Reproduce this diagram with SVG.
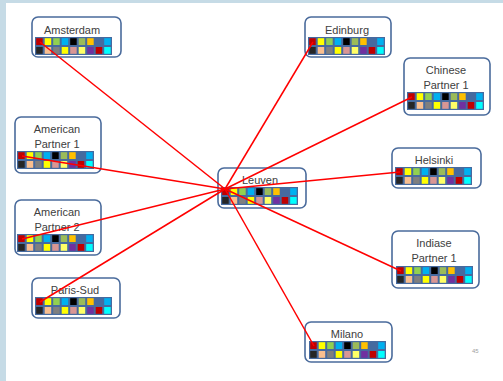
<svg xmlns="http://www.w3.org/2000/svg" xmlns:xlink="http://www.w3.org/1999/xlink" width="503" height="381" viewBox="0 0 503 381">
<style>
.box{fill:#ffffff;stroke:#4a6b9c;stroke-width:1.6}
.lbl{font-family:"Liberation Sans",Arial,sans-serif;font-size:11px;fill:#404040;text-anchor:middle}
.pg{font-family:"Liberation Sans",Arial,sans-serif;font-size:6px;fill:#a0a0a0}
.conn line{stroke:#ff0000;stroke-width:1.5}
</style>
<defs>
<g id="grid">
<rect x="0" y="0" width="77" height="18" fill="#466a9f"/>
<rect x="1.2" y="1.2" width="6.5" height="6.8" fill="#c00000"/>
<rect x="9.7" y="1.2" width="6.5" height="6.8" fill="#ffff00"/>
<rect x="18.2" y="1.2" width="6.5" height="6.8" fill="#92d050"/>
<rect x="26.7" y="1.2" width="6.5" height="6.8" fill="#00b0f0"/>
<rect x="35.2" y="1.2" width="6.5" height="6.8" fill="#000000"/>
<rect x="43.7" y="1.2" width="6.5" height="6.8" fill="#9bbb59"/>
<rect x="52.2" y="1.2" width="6.5" height="6.8" fill="#ffc000"/>
<rect x="69.2" y="1.2" width="6.5" height="6.8" fill="#00b0f0"/>
<rect x="1.2" y="10" width="6.5" height="6.8" fill="#262626"/>
<rect x="9.7" y="10" width="6.5" height="6.8" fill="#fabf8f"/>
<rect x="18.2" y="10" width="6.5" height="6.8" fill="#7f7f7f"/>
<rect x="26.7" y="10" width="6.5" height="6.8" fill="#ffff00"/>
<rect x="35.2" y="10" width="6.5" height="6.8" fill="#d99694"/>
<rect x="43.7" y="10" width="6.5" height="6.8" fill="#ffff66"/>
<rect x="52.2" y="10" width="6.5" height="6.8" fill="#7030a0"/>
<rect x="60.7" y="10" width="6.5" height="6.8" fill="#c00000"/>
<rect x="69.2" y="10" width="6.5" height="6.8" fill="#00ffff"/>
</g>
</defs>
<rect x="0" y="0" width="503" height="381" fill="#c6dbe6"/>
<rect x="6" y="3" width="497" height="378" fill="#ffffff"/>

<g id="amsterdam"><rect class="box" x="32" y="17" width="89" height="40" rx="6"/><text class="lbl" x="72" y="34">Amsterdam</text><use xlink:href="#grid" x="35" y="37"/></g>
<g id="edinburg"><rect class="box" x="305" y="17" width="86" height="40" rx="6"/><text class="lbl" x="347" y="34">Edinburg</text><use xlink:href="#grid" x="308" y="37"/></g>
<g id="chinese"><rect class="box" x="404" y="58" width="86" height="57" rx="6"/><text class="lbl" x="446" y="74">Chinese</text><text class="lbl" x="446" y="89">Partner 1</text><use xlink:href="#grid" x="407" y="92"/></g>
<g id="helsinki"><rect class="box" x="392" y="148" width="89" height="40" rx="6"/><text class="lbl" x="434" y="164">Helsinki</text><use xlink:href="#grid" x="395" y="167"/></g>
<g id="indiase"><rect class="box" x="392" y="231" width="87" height="57" rx="6"/><text class="lbl" x="434" y="247">Indiase</text><text class="lbl" x="434" y="262">Partner 1</text><use xlink:href="#grid" x="396" y="266"/></g>
<g id="milano"><rect class="box" x="305" y="322" width="87" height="40" rx="6"/><text class="lbl" x="347" y="338">Milano</text><use xlink:href="#grid" x="309" y="341"/></g>
<g id="leuven"><rect class="box" x="218" y="168" width="88" height="40" rx="6"/><text class="lbl" x="260" y="184">Leuven</text><use xlink:href="#grid" x="221" y="187"/></g>
<g id="american1"><rect class="box" x="15" y="117" width="86" height="56" rx="6"/><text class="lbl" x="57" y="133">American</text><text class="lbl" x="57" y="148">Partner 1</text><use xlink:href="#grid" x="17" y="151"/></g>
<g id="american2"><rect class="box" x="15" y="200" width="86" height="55" rx="6"/><text class="lbl" x="57" y="216">American</text><text class="lbl" x="57" y="231">Partner 2</text><use xlink:href="#grid" x="17" y="234"/></g>
<g id="parissud"><rect class="box" x="32" y="278" width="88" height="40" rx="6"/><text class="lbl" x="75" y="294">Paris-Sud</text><use xlink:href="#grid" x="35" y="297"/></g>

<g class="conn" id="connectors">
<line x1="40" y1="42" x2="225" y2="189"/>
<line x1="313" y1="42" x2="225" y2="189"/>
<line x1="412" y1="97" x2="225" y2="189"/>
<line x1="400" y1="172" x2="225" y2="189"/>
<line x1="401" y1="271" x2="225" y2="189"/>
<line x1="314" y1="346" x2="225" y2="189"/>
<line x1="22" y1="156" x2="225" y2="189"/>
<line x1="22" y1="239" x2="225" y2="189"/>
<line x1="40" y1="302" x2="225" y2="189"/>
</g>
<text class="pg" x="472" y="353">45</text>
</svg>
